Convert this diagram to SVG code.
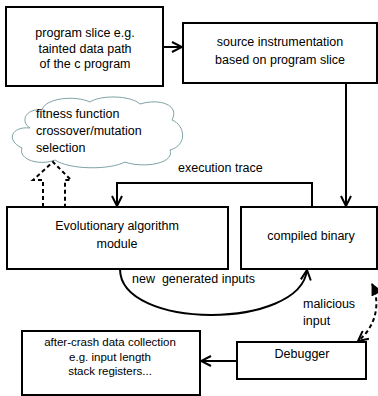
<svg xmlns="http://www.w3.org/2000/svg" width="378" height="396" viewBox="0 0 378 396">
<style>
.box{fill:#fff;stroke:#000;stroke-width:2}
.t{font-family:"Liberation Sans",Arial,sans-serif;font-size:12.5px;fill:#000}
.s{font-size:11.5px}
.c{text-anchor:middle}
.ln{fill:none;stroke:#000;stroke-width:2}
.dash{fill:none;stroke:#000;stroke-width:2;stroke-dasharray:4 3}
</style>
<defs>
<marker id="open" viewBox="0 0 12 12" refX="11" refY="6" markerWidth="12" markerHeight="12" markerUnits="userSpaceOnUse" orient="auto">
<path d="M1,1 L11,6 L1,11" fill="none" stroke="#000" stroke-width="2"/>
</marker>
<marker id="fill" viewBox="0 0 12 12" refX="11" refY="6" markerWidth="12" markerHeight="12" markerUnits="userSpaceOnUse" orient="auto-start-reverse">
<path d="M0,0 L12,6 L0,12 Z" fill="#000"/>
</marker>
</defs>
<g id="cloud">
<path d="M30,128 C12,126 5,140 22,148 C18,160 40,166 55,160 C70,170 110,170 125,162 C140,168 175,165 170,150 C188,145 185,125 172,120 C180,105 160,98 140,104 C130,95 100,95 90,102 C75,95 45,98 42,110 C25,108 20,122 30,128 Z" fill="#fff" stroke="#7fa3a6" stroke-width="1"/>
<text class="t" x="36" y="117.5">fitness function</text>
<text class="t" x="36" y="134.5">crossover/mutation</text>
<text class="t" x="36" y="151.5">selection</text>
</g>
<g id="slice">
<rect class="box" x="6" y="7" width="157" height="79"/>
<text class="t c" x="85" y="36.5">program slice e.g.</text>
<text class="t c" x="85" y="52.5">tainted data path</text>
<text class="t c" x="85" y="67.5">of the c program</text>
</g>
<g id="instr">
<rect class="box" x="183" y="23" width="194" height="60"/>
<text class="t c" x="280" y="45.5">source instrumentation</text>
<text class="t c" x="280" y="63.5">based on program slice</text>
</g>
<g id="evo">
<rect class="box" x="7" y="207" width="221" height="62"/>
<text class="t c" x="117" y="229.5">Evolutionary algorithm</text>
<text class="t c" x="117" y="247.5">module</text>
</g>
<g id="binary">
<rect class="box" x="241" y="207" width="136" height="62"/>
<text class="t c" x="311" y="239.5">compiled binary</text>
</g>
<g id="debugger">
<rect class="box" x="237" y="342" width="129" height="37"/>
<text class="t c" x="302" y="358">Debugger</text>
</g>
<g id="crash">
<rect class="box" x="22" y="331" width="178" height="64"/>
<text class="t s c" x="110" y="346">after-crash data collection</text>
<text class="t s c" x="110" y="361">e.g. input length</text>
<text class="t s c" x="110" y="375">stack registers...</text>
</g>
<g id="connectors">
<path class="ln" d="M163,47 L182,47" marker-end="url(#open)"/>
<path class="ln" d="M346,83 L346,206" marker-end="url(#open)"/>
<path class="ln" d="M312,207 L312,183 L117,183 L117,206" marker-end="url(#open)"/>
<text class="t" x="178" y="171.5">execution trace</text>
<polygon class="dash" points="43,207 43,180 33,180 53,162 71,180 65,180 65,207"/>
<path class="ln" d="M120,269 C120,330 300,330 307,270" marker-end="url(#open)"/>
<text class="t" x="132" y="282.5" xml:space="preserve">new  generated inputs</text>
<text class="t" x="303" y="307.5">malicious</text>
<text class="t" x="303" y="324.5">input</text>
<path class="dash" d="M372,284 C380,300 378,325 358,341" marker-start="url(#fill)" marker-end="url(#open)"/>
<path class="ln" d="M237,361 L201,361" marker-end="url(#open)"/>
</g>
</svg>
